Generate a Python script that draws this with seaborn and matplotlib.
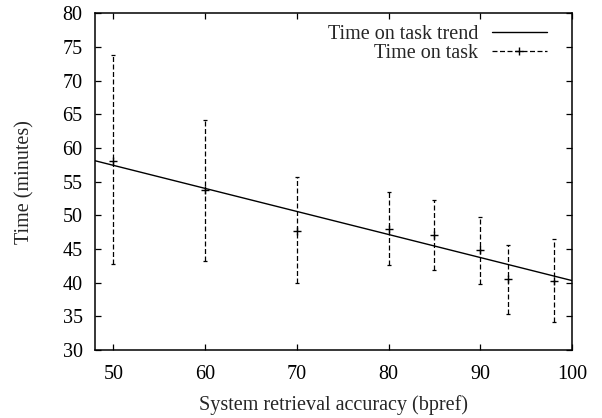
import numpy as np
import pandas as pd
import matplotlib
matplotlib.use("Agg")
import matplotlib.pyplot as plt
import seaborn as sns
from matplotlib.lines import Line2D

# values
accuracy = [50, 60, 70, 80, 85, 90, 93, 98]
time_mean = [58.1, 53.8, 47.7, 48.0, 47.1, 44.9, 40.5, 40.3]
time_low = [42.7, 43.2, 39.9, 42.6, 41.9, 39.8, 35.4, 34.2]
time_high = [73.8, 64.2, 55.7, 53.5, 52.3, 49.8, 45.6, 46.5]
trend_x = [48, 100]
trend_y = [58.1, 40.3]


def make_plot():
    sns.set_style("ticks")
    plt.rcParams['font.family'] = ['Liberation Serif', 'DejaVu Serif']
    fs = 14.5

    df = pd.DataFrame({'acc': accuracy, 'mean': time_mean,
                       'low': time_low, 'high': time_high})
    trend = pd.DataFrame({'acc': trend_x, 'time': trend_y})

    fig = plt.figure(figsize=(6.02, 4.18), dpi=100)
    ax = fig.add_axes([0.158, 0.163, 0.792, 0.805])

    # trend line
    sns.lineplot(data=trend, x='acc', y='time', color='black', linewidth=1.0,
                 ax=ax, legend=False)

    # dashed error bars with small caps
    err = [df['mean'] - df['low'], df['high'] - df['mean']]
    eb = ax.errorbar(df['acc'], df['mean'], yerr=err, fmt='none', ecolor='black',
                     elinewidth=0.9, capsize=1.5, capthick=0.9)
    eb[2][0].set_linestyle((0, (4, 2)))

    # '+' markers at the means
    sns.scatterplot(data=df, x='acc', y='mean', marker='+', color='black', s=40,
                    linewidth=1.0, ax=ax, legend=False)

    ax.set_xlim(48, 100)
    ax.set_ylim(30, 80)
    ax.set_xticks([50, 60, 70, 80, 90, 100])
    ax.set_yticks(np.arange(30, 81, 5))
    ax.tick_params(direction='in', length=4, width=0.9, top=True, right=True,
                   labelsize=fs, colors='black')
    ax.tick_params(axis='y', pad=9)
    ax.tick_params(axis='x', pad=11)
    for sp in ax.spines.values():
        sp.set_visible(True)
        sp.set_linewidth(1.1)
        sp.set_color('black')

    ax.set_xlabel('System retrieval accuracy (bpref)', fontsize=fs, labelpad=8)
    ax.set_ylabel('Time (minutes)', fontsize=fs, labelpad=20)

    handles = [
        Line2D([], [], color='black', linewidth=1.0),
        Line2D([], [], color='black', linewidth=0.9, linestyle=(0, (4, 2)),
               marker='+', markersize=6),
    ]
    ax.legend(handles, ['Time on task trend', 'Time on task'], loc='upper right',
              frameon=False, markerfirst=False, handlelength=2.7, fontsize=fs,
              labelspacing=0.0, borderaxespad=0.1, handletextpad=0.7,
              bbox_to_anchor=(0.968, 0.995))

    fig.savefig('out.png', dpi=100)


make_plot()
